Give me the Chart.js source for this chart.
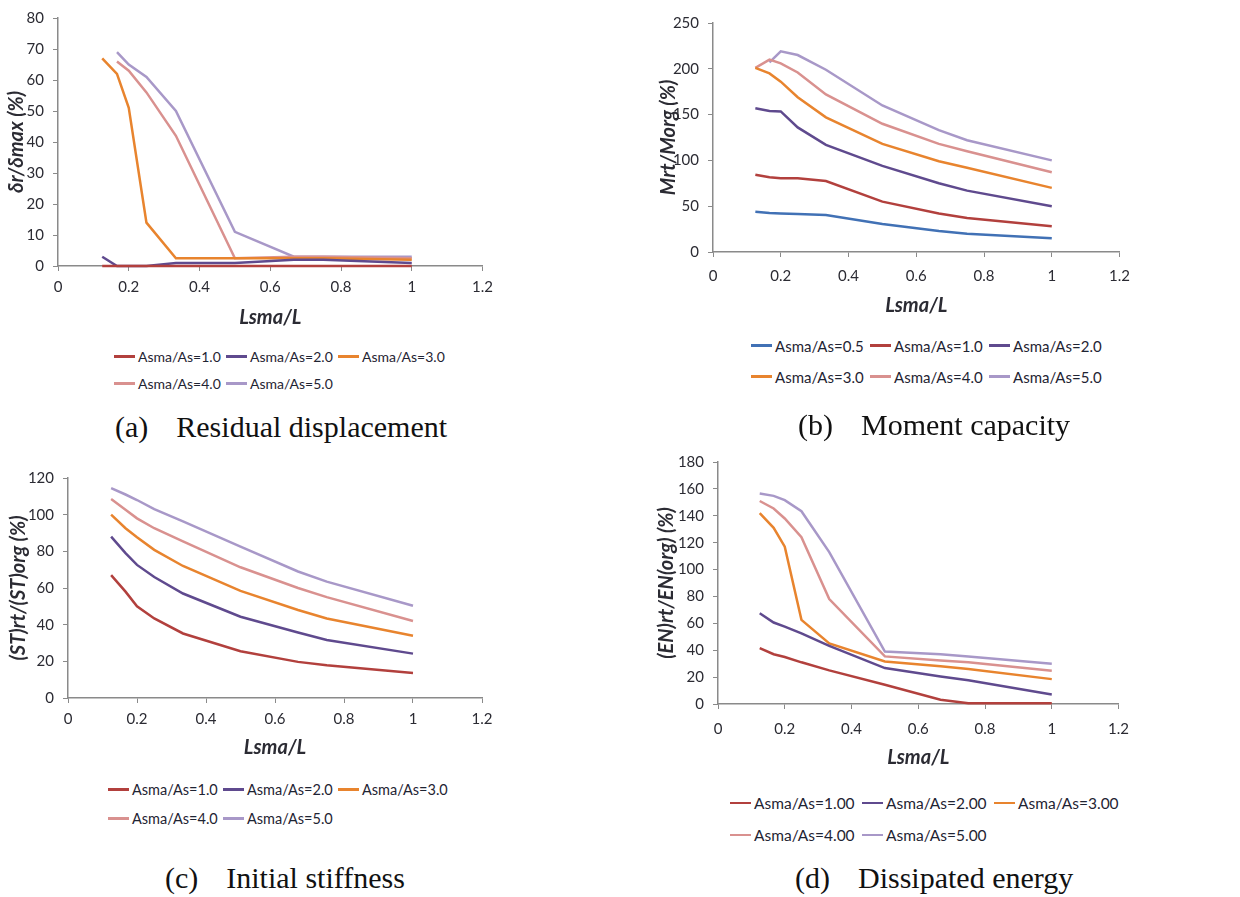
<!DOCTYPE html>
<html>
<head>
<meta charset="utf-8">
<title>SMA bar parametric study</title>
<script src="https://cdn.jsdelivr.net/npm/chart.js@4.4.0/dist/chart.umd.min.js"></script>
<style>
  html, body { margin: 0; padding: 0; background: #fff; }
  body { width: 1240px; height: 897px; position: relative; overflow: hidden; font-family: Lato, "Open Sans", sans-serif; }
  canvas { position: absolute; }
  .legend { position: absolute; display: flex; flex-wrap: wrap; color: #1f2433; }
  .legend .item { display: flex; align-items: center; white-space: nowrap; }
  .legend .swatch { width: 21px; height: 2.5px; margin-right: 3px; flex: 0 0 auto; }
  .caption { position: absolute; font-family: "Liberation Serif", "Times New Roman", serif; font-size: 30px; line-height: 30px; color: #111; white-space: nowrap; }
  .caption span { margin-right: 28px; }
</style>
</head>
<body>
<canvas id="chartA" width="500" height="330" style="left:0px;top:0px"></canvas>
<canvas id="chartB" width="500" height="320" style="left:640px;top:0px"></canvas>
<canvas id="chartC" width="500" height="300" style="left:0px;top:460px"></canvas>
<canvas id="chartD" width="500" height="330" style="left:640px;top:440px"></canvas>

<div class="legend" id="legendA" style="left:114px;top:343px;width:336px;font-size:14px"></div>
<div class="legend" id="legendB" style="left:751px;top:330px;width:360px;font-size:15px"></div>
<div class="legend" id="legendC" style="left:108px;top:775px;width:348px;font-size:14.5px"></div>
<div class="legend" id="legendD" style="left:730px;top:787px;width:400px;font-size:15.5px"></div>

<div class="caption" style="left:115px;top:412px"><span>(a)</span>Residual displacement</div>
<div class="caption" style="left:798px;top:410px"><span>(b)</span>Moment capacity</div>
<div class="caption" style="left:165px;top:863px"><span>(c)</span>Initial stiffness</div>
<div class="caption" style="left:795px;top:863px"><span>(d)</span>Dissipated energy</div>

<script>
// Lsma/L values shared by every panel
const lsmaRatio = [0.125, 0.1667, 0.2, 0.25, 0.3333, 0.5, 0.6667, 0.75, 1];

// (a) Residual displacement, δr/δmax (%)
const residLabels = ["Asma/As=1.0", "Asma/As=2.0", "Asma/As=3.0", "Asma/As=4.0", "Asma/As=5.0"];
const residAs10 = [0, 0, 0, 0, 0, 0, 0, 0, 0];
const residAs20 = [3, 0, 0, 0, 1, 1, 2, 2, 1];
const residAs30 = [67, 62, 51, 14, 2.5, 2.5, 2.5, 2.5, 2];
const residAs40 = [null, 66, 63, 56, 42, 2.5, 3, 3, 2.5];
const residAs50 = [null, 69, 65, 61, 50, 11, 3, 3, 3];

// (b) Moment capacity, Mrt/Morg (%)
const momentLabels = ["Asma/As=0.5", "Asma/As=1.0", "Asma/As=2.0", "Asma/As=3.0", "Asma/As=4.0", "Asma/As=5.0"];
const momentAs05 = [44, 42.6, 42, 41.5, 40.4, 30.6, 23, 20, 15];
const momentAs10 = [84.4, 81.5, 80.4, 80.4, 77.5, 55, 42, 37, 28];
const momentAs20 = [157, 154, 153.5, 136, 117, 94, 75, 67, 50];
const momentAs30 = [201, 195, 186, 169, 147, 118, 99, 92, 70];
const momentAs40 = [201, 210, 206, 196, 172, 140, 118, 110, 87];
const momentAs50 = [null, 207, 219, 215, 199, 160, 133, 122, 100];

// (c) Initial stiffness, (ST)rt/(ST)org (%)
const stiffLabels = ["Asma/As=1.0", "Asma/As=2.0", "Asma/As=3.0", "Asma/As=4.0", "Asma/As=5.0"];
const stiffAs10 = [67, 58, 50, 43.4, 35.2, 25.5, 19.7, 17.9, 13.7];
const stiffAs20 = [88, 79, 72.6, 66, 57, 44.3, 35.7, 31.6, 24.2];
const stiffAs30 = [100, 92.6, 87.7, 80.8, 72, 58.4, 48, 43.4, 34];
const stiffAs40 = [108.5, 102.7, 98, 92.6, 85.4, 71.3, 60, 55, 42];
const stiffAs50 = [114.5, 111, 108, 103, 96.3, 82.6, 69, 63.5, 50.3];

// (d) Dissipated energy, (EN)rt/EN(org) (%)
const energyLabels = ["Asma/As=1.00", "Asma/As=2.00", "Asma/As=3.00", "Asma/As=4.00", "Asma/As=5.00"];
const energyAs10 = [41.5, 37, 35, 31, 25, 14.3, 3.2, 0.5, 0.5];
const energyAs20 = [67.5, 60.6, 57.6, 52.6, 43.3, 26.7, 20.5, 17.6, 7];
const energyAs30 = [142, 131, 117, 62.6, 45, 31.6, 28, 26, 18.5];
const energyAs40 = [151, 145.4, 138, 124, 78, 35.4, 32.4, 31, 24.7];
const energyAs50 = [156.5, 154.8, 151.6, 143.4, 113, 39, 37, 35.4, 30];

// Excel-like series colours
const COLOR_05 = "#4171b5";
const COLOR_10 = "#b2403d";
const COLOR_20 = "#5f4a8e";
const COLOR_30 = "#e8842e";
const COLOR_40 = "#d9918f";
const COLOR_50 = "#a898c8";

const AXIS_COLOR = "#8a8a8a";
const TEXT_COLOR = "#2b2b33";
const FONT = "Lato, 'Open Sans', sans-serif";

/**
 * Build line datasets from named series
 */
function makeDatasets(labels, series, colors) {
  return series.map((values, i) => ({
    label: labels[i],
    data: lsmaRatio.map((x, j) => ({ x, y: values[j] })),
    borderColor: colors[i],
    backgroundColor: colors[i],
    borderWidth: 2.5,
    pointRadius: 0,
    tension: 0,
    fill: false,
    clip: false,
  }));
}

/**
 * Create one panel chart
 */
function makeChart(canvasId, opts) {
  const ctx = document.getElementById(canvasId).getContext("2d");
  return new Chart(ctx, {
    type: "line",
    data: { datasets: makeDatasets(opts.labels, opts.series, opts.colors) },
    options: {
      responsive: false,
      animation: false,
      layout: { padding: opts.padding },
      plugins: { legend: { display: false }, tooltip: { enabled: false } },
      scales: {
        x: {
          type: "linear",
          min: 0,
          max: 1.2,
          ticks: {
            stepSize: 0.2,
            autoSkip: false,
            maxRotation: 0,
            padding: opts.xTickPad,
            color: TEXT_COLOR,
            font: { family: FONT, size: 15 },
            // Excel style: "1" rather than "1.0"
            callback: (value) => String(Number(value.toFixed(2))),
          },
          grid: { drawOnChartArea: false, drawTicks: true, tickLength: 5, color: AXIS_COLOR },
          border: { color: AXIS_COLOR, width: 1.5 },
          title: {
            display: true,
            text: "Lsma/L",
            color: TEXT_COLOR,
            padding: { top: 0, bottom: opts.xTitlePad },
            font: { family: FONT, size: 20, weight: "bold", style: "italic" },
          },
          afterFit(scale) {
            scale.height = opts.xHeight;
          },
        },
        y: {
          min: 0,
          max: opts.yMax,
          ticks: {
            stepSize: opts.yStep,
            padding: 9,
            color: TEXT_COLOR,
            font: { family: FONT, size: 15 },
          },
          grid: { drawOnChartArea: false, drawTicks: true, tickLength: 5, color: AXIS_COLOR },
          border: { color: AXIS_COLOR, width: 1.5 },
          title: {
            display: true,
            text: opts.yTitle,
            color: TEXT_COLOR,
            padding: { top: opts.yTitlePad, bottom: 0 },
            font: { family: FONT, size: 20, weight: "bold", style: "italic" },
          },
          afterFit(scale) {
            scale.width = opts.yWidth;
          },
        },
      },
    },
  });
}

/**
 * Render an HTML legend with line swatches
 */
function makeLegend(id, labels, colors, itemWidth, rowHeight) {
  const box = document.getElementById(id);
  labels.forEach((label, i) => {
    const item = document.createElement("div");
    item.className = "item";
    item.style.width = itemWidth + "px";
    item.style.height = rowHeight + "px";
    const swatch = document.createElement("span");
    swatch.className = "swatch";
    swatch.style.background = colors[i];
    const text = document.createElement("span");
    text.textContent = label;
    item.appendChild(swatch);
    item.appendChild(text);
    box.appendChild(item);
  });
}

const colors5 = [COLOR_10, COLOR_20, COLOR_30, COLOR_40, COLOR_50];
const colors6 = [COLOR_05, COLOR_10, COLOR_20, COLOR_30, COLOR_40, COLOR_50];

makeChart("chartA", {
  labels: residLabels,
  series: [residAs10, residAs20, residAs30, residAs40, residAs50],
  colors: colors5,
  yMax: 80, yStep: 10,
  yTitle: "δr/δmax (%)",
  padding: { left: 0, top: 15, right: 17, bottom: 0 },
  yWidth: 58, xHeight: 64,
  xTickPad: 7, xTitlePad: 0, yTitlePad: 5,
});

makeChart("chartB", {
  labels: momentLabels,
  series: [momentAs05, momentAs10, momentAs20, momentAs30, momentAs40, momentAs50],
  colors: colors6,
  yMax: 250, yStep: 50,
  yTitle: "Mrt/Morg (%)",
  padding: { left: 0, top: 23, right: 14, bottom: 0 },
  yWidth: 73, xHeight: 68,
  xTickPad: 10, xTitlePad: 2, yTitlePad: 17,
});

makeChart("chartC", {
  labels: stiffLabels,
  series: [stiffAs10, stiffAs20, stiffAs30, stiffAs40, stiffAs50],
  colors: colors5,
  yMax: 120, yStep: 20,
  yTitle: "(ST)rt/(ST)org (%)",
  padding: { left: 0, top: 18, right: 18, bottom: 0 },
  yWidth: 68, xHeight: 62,
  xTickPad: 7, xTitlePad: 0, yTitlePad: 7,
});

makeChart("chartD", {
  labels: energyLabels,
  series: [energyAs10, energyAs20, energyAs30, energyAs40, energyAs50],
  colors: colors5,
  yMax: 180, yStep: 20,
  yTitle: "(EN)rt/EN(org) (%)",
  padding: { left: 0, top: 22, right: 15, bottom: 0 },
  yWidth: 78, xHeight: 66,
  xTickPad: 11, xTitlePad: 0, yTitlePad: 15,
});

makeLegend("legendA", residLabels, colors5, 112, 27);
makeLegend("legendB", momentLabels, colors6, 119, 31);
makeLegend("legendC", stiffLabels, colors5, 115, 29);
makeLegend("legendD", energyLabels, colors5, 132, 32);
</script>
</body>
</html>
